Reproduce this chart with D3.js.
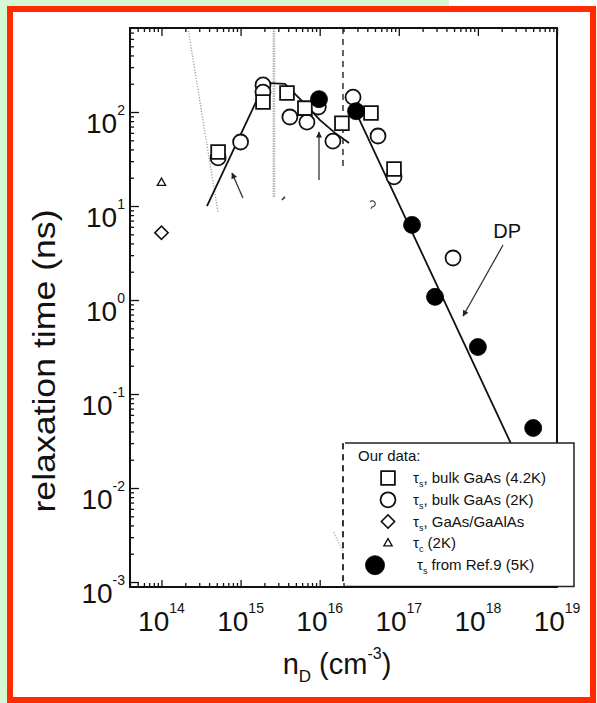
<!DOCTYPE html>
<html>
<head>
<meta charset="utf-8">
<script src="https://cdn.jsdelivr.net/npm/d3@7"></script>
<style>
  body { margin: 0; background: #d3f8d3; }
  svg { display: block; font-family: "Liberation Sans", Arial, Helvetica, sans-serif; }
</style>
</head>
<body>
<svg id="chart" width="597" height="703"></svg>
<script>
// Spin relaxation time versus donor concentration n_D (log-log)

// axis decades that carry labels
const xDecades = [1e14, 1e15, 1e16, 1e17, 1e18, 1e19];
const yDecades = [1e-3, 1e-2, 1e-1, 1e0, 1e1, 1e2];

// measured points: [n_D (cm^-3), time (ns)]
const bulk42K = [[5.2e14, 37.5], [1.92e15, 128], [3.86e15, 159], [6.5e15, 110],
                 [1.91e16, 76], [4.45e16, 97.5], [8.7e16, 24.8]];
const bulk2K = [[5.2e14, 32.5], [1.0e15, 48], [1.92e15, 194], [1.92e15, 163],
                [4.2e15, 88.5], [6.9e15, 78], [9.6e15, 113], [1.47e16, 49],
                [2.64e16, 144], [5.46e16, 55.6], [8.7e16, 20.4], [4.85e17, 2.8]];
const quantumWell = [[1.0e14, 5.2]];
const tauC2K = [[1.0e14, 17.6]];
const ref9 = [[9.8e15, 137], [2.88e16, 102], [1.47e17, 6.3], [2.87e17, 1.08],
              [1.0e18, 0.316], [5.0e18, 0.0435]];

// theory curves
const lowDensityCurve = [[3.76e14, 10], [2.03e15, 204], [3.64e15, 199], [6.5e15, 122],
                         [1.01e16, 82], [1.56e16, 60], [2.35e16, 46.8]];
const dpCurve = [[2.79e16, 105], [2.43e18, 0.034], [4.0e18, 0.0137]];

// faint guide lines of the underlying figure
const greyDotted = [[2.16e14, 783], [5.2e14, 8.4]];
const greyVertical = [[2.64e15, 783], [2.64e15, 12.5]];
const greyDottedLow = [[1.5e16, 3.4e-3], [1.97e16, 2.1e-3]];
const mottUpper = [[1.97e16, 783], [1.97e16, 25.4]];
const mottLower = [[1.97e16, 0.030], [1.97e16, 8.85e-4]];
const strayTick = [[3.33e15, 11.6], [3.64e15, 12.5]];
const strayHook = [4.72e16, 10.3];

// arrows: [from, to]
const arrows = [
  [[1.07e15, 12.2], [7.8e14, 22.4]],
  [[9.8e15, 18.9], [9.8e15, 61.3]],
  [[2.08e18, 3.85], [6.5e17, 0.676]]
];
const dpLabel = { text: "DP", at: [2.34e18, 4.57] };

// legend entries
const legendTitle = "Our data:";
const legendRows = [
  { kind: "square", sym: "τ", sub: "s", text: ", bulk GaAs (4.2K)" },
  { kind: "circle", sym: "τ", sub: "s", text: ", bulk GaAs (2K)" },
  { kind: "diamond", sym: "τ", sub: "s", text: ", GaAs/GaAlAs" },
  { kind: "triangle", sym: "τ", sub: "c", text: " (2K)" },
  { kind: "filled", sym: "τ", sub: "s", text: " from Ref.9 (5K)" }
];

const xTitle = { main: "n", sub: "D", rest: " (cm", sup: "-3", end: ")" };
const yTitle = "relaxation time (ns)";

const svg = d3.select("#chart");
const W = 597, H = 703;
const plot = { left: 130, right: 557, top: 28, bottom: 587 };

// page frame
svg.append("rect").attr("width", W).attr("height", H).attr("fill", "#d3f8d3");
svg.append("rect").attr("x", 449).attr("y", 0).attr("width", W - 449).attr("height", 8).attr("fill", "#ffffff");
svg.append("rect").attr("x", 10).attr("y", 9).attr("width", 583).attr("height", 691)
  .attr("fill", "#ffffff").attr("stroke", "#ff2a00").attr("stroke-width", 6);

const x = d3.scaleLog().domain([4e13, 1e19]).range([plot.left, plot.right]);
const y = d3.scaleLog().domain([8.85e-4, 783]).range([plot.bottom, plot.top]);

const line = d3.line().x(d => x(d[0])).y(d => y(d[1]));

// faint guides
svg.append("path").attr("d", line(greyDotted)).attr("fill", "none")
  .attr("stroke", "#9a9a9a").attr("stroke-width", 1.3).attr("stroke-dasharray", "1.2,1.6");
svg.append("path").attr("d", line(greyVertical)).attr("fill", "none")
  .attr("stroke", "#b4b4b4").attr("stroke-width", 2.6).attr("stroke-dasharray", "1.5,1");
svg.append("path").attr("d", line(greyDottedLow)).attr("fill", "none")
  .attr("stroke", "#aaaaaa").attr("stroke-width", 1.2).attr("stroke-dasharray", "1.2,1.6");
[mottUpper, mottLower].forEach(seg => {
  svg.append("path").attr("d", line(seg)).attr("fill", "none")
    .attr("stroke", "#222").attr("stroke-width", 1.4).attr("stroke-dasharray", "6,5");
});
svg.append("path").attr("d", line(strayTick)).attr("fill", "none")
  .attr("stroke", "#333").attr("stroke-width", 1.5);
svg.append("path")
  .attr("d", `M${x(strayHook[0]) - 3},${y(strayHook[1]) - 3} a3,3 0 1,1 2,5 l-1,2`)
  .attr("fill", "none").attr("stroke", "#444").attr("stroke-width", 1.2);

// theory curves
[lowDensityCurve, dpCurve].forEach(c => {
  svg.append("path").attr("d", line(c)).attr("fill", "none")
    .attr("stroke", "#111").attr("stroke-width", 1.8).attr("stroke-linejoin", "round");
});

// arrows
const defs = svg.append("defs");
defs.append("marker").attr("id", "head").attr("viewBox", "0 0 10 10")
  .attr("refX", 9).attr("refY", 5).attr("markerWidth", 9).attr("markerHeight", 6)
  .attr("markerUnits", "userSpaceOnUse").attr("orient", "auto")
  .append("path").attr("d", "M0,0 L10,5 L0,10 z").attr("fill", "#222");
arrows.forEach(a => {
  svg.append("path").attr("d", line(a)).attr("fill", "none")
    .attr("stroke", "#333").attr("stroke-width", 1.3).attr("marker-end", "url(#head)");
});
svg.append("text").attr("x", x(dpLabel.at[0])).attr("y", y(dpLabel.at[1]))
  .attr("text-anchor", "middle").attr("font-size", 20).attr("fill", "#111").text(dpLabel.text);

// marker shapes
function drawMarker(g, kind, cx, cy, scale) {
  const s = scale || 1;
  if (kind === "square") {
    g.append("path").attr("d", d3.symbol(d3.symbolSquare, 190 * s * s)())
      .attr("transform", `translate(${cx},${cy})`)
      .attr("fill", "#fff").attr("stroke", "#111").attr("stroke-width", 1.8);
  } else if (kind === "circle") {
    g.append("circle").attr("cx", cx).attr("cy", cy).attr("r", 7.5 * s)
      .attr("fill", "#fff").attr("stroke", "#111").attr("stroke-width", 1.8);
  } else if (kind === "diamond") {
    g.append("path").attr("d", d3.symbol(d3.symbolSquare, 88 * s * s)())
      .attr("transform", `translate(${cx},${cy}) rotate(45)`)
      .attr("fill", "#fff").attr("stroke", "#111").attr("stroke-width", 1.6);
  } else if (kind === "triangle") {
    g.append("path").attr("d", d3.symbol(d3.symbolTriangle, 30 * s * s)())
      .attr("transform", `translate(${cx},${cy})`)
      .attr("fill", "#fff").attr("stroke", "#111").attr("stroke-width", 1.3);
  } else if (kind === "filled") {
    g.append("circle").attr("cx", cx).attr("cy", cy).attr("r", 8.5 * s)
      .attr("fill", "#000").attr("stroke", "#000").attr("stroke-width", 0.8);
  }
}

const pts = svg.append("g");
[[bulk2K, "circle"], [bulk42K, "square"], [quantumWell, "diamond"],
 [tauC2K, "triangle"], [ref9, "filled"]].forEach(([data, kind]) => {
  data.forEach(d => drawMarker(pts, kind, x(d[0]), y(d[1])));
});

// axes: ticks point into the plot
const isDecade = v => Math.abs(Math.log10(v) - Math.round(Math.log10(v))) < 1e-6;
const xMinor = x.ticks().filter(v => !isDecade(v));
const xMajor = x.ticks().filter(isDecade);
const yMinor = y.ticks().filter(v => !isDecade(v));
const yMajor = y.ticks().filter(isDecade);

function tickAxis(axis, tx, ty) {
  const g = svg.append("g").attr("transform", `translate(${tx},${ty})`).call(axis);
  g.select(".domain").remove();
  g.selectAll(".tick line").attr("stroke", "#111").attr("stroke-width", 1.3);
  g.selectAll(".tick text").remove();
}
tickAxis(d3.axisRight(y).tickValues(yMinor).tickSize(4).tickFormat(""), plot.left, 0);
tickAxis(d3.axisRight(y).tickValues(yMajor).tickSize(9).tickFormat(""), plot.left, 0);
tickAxis(d3.axisBottom(x).tickValues(xMinor).tickSize(4).tickFormat(""), 0, plot.top);
tickAxis(d3.axisBottom(x).tickValues(xMajor).tickSize(8).tickFormat(""), 0, plot.top);
tickAxis(d3.axisTop(x).tickValues(xMinor).tickSize(4).tickFormat(""), 0, plot.bottom);
tickAxis(d3.axisTop(x).tickValues(xMajor).tickSize(7).tickFormat(""), 0, plot.bottom);

// plot frame
svg.append("rect").attr("x", plot.left).attr("y", plot.top)
  .attr("width", plot.right - plot.left).attr("height", plot.bottom - plot.top)
  .attr("fill", "none").attr("stroke", "#111").attr("stroke-width", 2);

// legend box
const lg = svg.append("g");
lg.append("rect").attr("x", 345).attr("y", 443).attr("width", 229).attr("height", 143)
  .attr("fill", "#fff").attr("stroke", "none");
lg.append("path").attr("d", "M345,443 H574 V586.5 H345")
  .attr("fill", "none").attr("stroke", "#222").attr("stroke-width", 1.5);
lg.append("path").attr("d", line(mottLower)).attr("fill", "none")
  .attr("stroke", "#222").attr("stroke-width", 1.4).attr("stroke-dasharray", "6,5");
lg.append("line").attr("x1", plot.left).attr("x2", plot.right).attr("y1", plot.bottom).attr("y2", plot.bottom)
  .attr("stroke", "#111").attr("stroke-width", 2);
lg.append("text").attr("x", 358).attr("y", 461).attr("font-size", 15).attr("fill", "#111").text(legendTitle);
legendRows.forEach((r, i) => {
  const cy = 478 + i * 21.8;
  const isFilled = r.kind === "filled";
  drawMarker(lg, r.kind, isFilled ? 375 : 388, cy, isFilled ? 1.12 : 1);
  const t = lg.append("text").attr("x", isFilled ? 417 : 413).attr("y", cy + 5)
    .attr("font-size", 15).attr("fill", "#111");
  t.append("tspan").text(r.sym);
  t.append("tspan").attr("font-size", 9).attr("dy", 4).text(r.sub);
  t.append("tspan").attr("dy", -4).text(r.text);
});

// tick labels as 10^n
function powerLabel(sel, v) {
  const e = Math.round(Math.log10(v));
  sel.append("tspan").text("10");
  sel.append("tspan").attr("font-size", 14).attr("dy", -18).text(String(e));
}
svg.append("g").selectAll("text").data(yDecades).join("text")
  .attr("x", 125).attr("y", d => y(d) + 21).attr("text-anchor", "end")
  .attr("font-size", 28).attr("fill", "#111")
  .each(function (d) { powerLabel(d3.select(this), d); });
svg.append("g").selectAll("text").data(xDecades).join("text")
  .attr("x", d => x(d)).attr("y", 631).attr("text-anchor", "middle")
  .attr("font-size", 28).attr("fill", "#111")
  .each(function (d) { powerLabel(d3.select(this), d); });

// axis titles
const xt = svg.append("text").attr("x", 337).attr("y", 674).attr("text-anchor", "middle")
  .attr("font-size", 29).attr("fill", "#111");
xt.append("tspan").text(xTitle.main);
xt.append("tspan").attr("font-size", 17).attr("dy", 8).text(xTitle.sub);
xt.append("tspan").attr("dy", -8).text(xTitle.rest);
xt.append("tspan").attr("font-size", 16).attr("dy", -15).text(xTitle.sup);
xt.append("tspan").attr("dy", 15).text(xTitle.end);

svg.append("text").attr("transform", "translate(55,361) rotate(-90)")
  .attr("text-anchor", "middle").attr("font-size", 32).attr("fill", "#111")
  .attr("textLength", 303).attr("lengthAdjust", "spacingAndGlyphs").text(yTitle);
</script>
</body>
</html>
